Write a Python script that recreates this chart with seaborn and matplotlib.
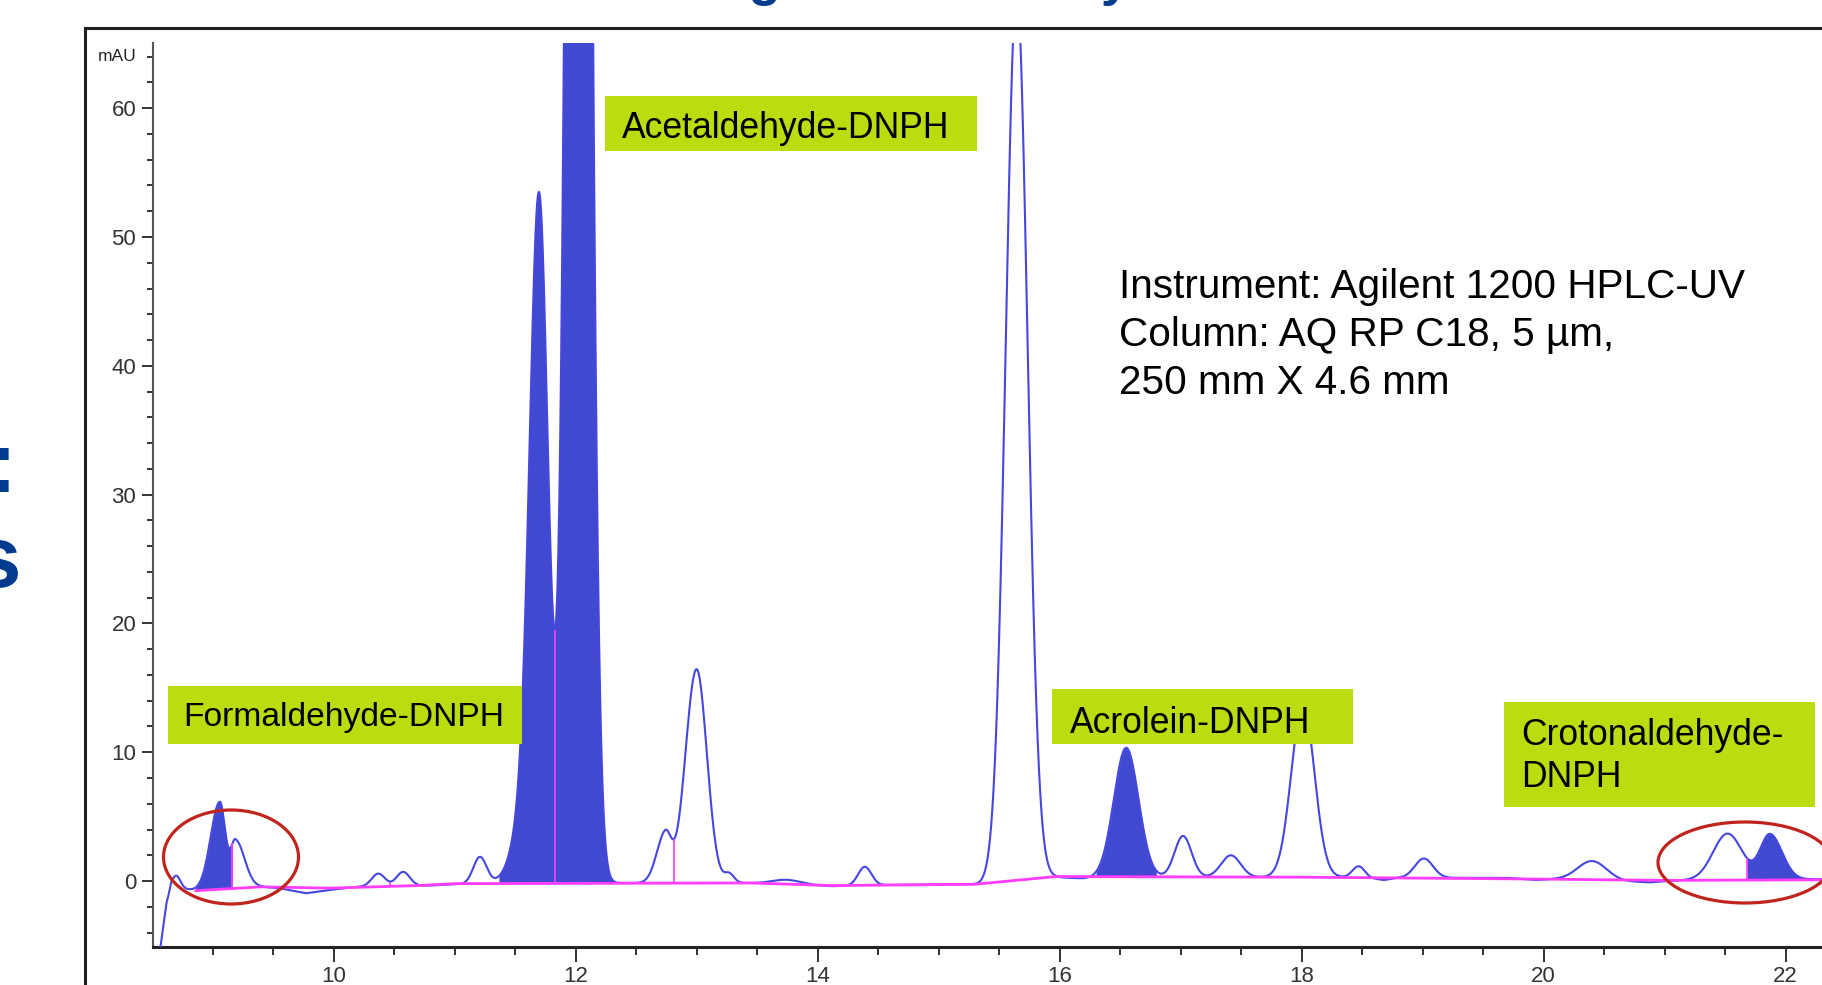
import numpy as np
import matplotlib
matplotlib.use("Agg")
import matplotlib.pyplot as plt
import seaborn as sns
from matplotlib.patches import Rectangle, Ellipse
from matplotlib.ticker import FixedLocator, MultipleLocator

# ---------------- data ----------------
# peak table: retention time (min), height (mAU), left / right widths (min)
peak_rt      = [8.70, 9.06, 9.19, 10.37, 10.575, 11.21, 11.64, 11.70, 12.025, 12.74, 13.00, 13.27, 13.74,
                14.39, 15.645, 16.55, 17.02, 17.415, 18.01, 18.47, 19.01, 20.40, 21.52, 21.87]
peak_height  = [1.0, 6.75, 3.7, 1.0, 1.1, 2.1, 7.5, 47.0, 233.0, 3.8, 16.6, 0.7, 0.35,
                1.45, 69.0, 10.1, 3.2, 1.7, 13.5, 0.85, 1.5, 1.5, 3.6, 3.5]
peak_sigma_l = [0.035, 0.075, 0.04, 0.055, 0.055, 0.055, 0.12, 0.075, 0.0755, 0.07, 0.092, 0.04, 0.12,
                0.055, 0.09, 0.102, 0.07, 0.08, 0.095, 0.05, 0.075, 0.12, 0.12, 0.08]
peak_sigma_r = [0.035, 0.045, 0.075, 0.055, 0.055, 0.055, 0.12, 0.072, 0.0755, 0.05, 0.085, 0.04, 0.12,
                0.055, 0.09, 0.102, 0.07, 0.08, 0.095, 0.05, 0.075, 0.12, 0.12, 0.10]

# detector background under the signal (min, mAU)
bg_time  = [8.56, 8.57, 8.62, 8.66, 8.72, 8.86, 9.40, 9.55, 9.77, 10.0, 10.2, 10.8, 11.0, 12.0, 13.4,
            13.9, 14.12, 14.6, 15.35, 15.55, 15.95, 16.2, 17.0, 18.5, 18.68, 18.8, 19.7, 19.93, 20.1,
            20.88, 21.1, 22.3]
bg_value = [-6.4, -5.1, -1.75, -0.55, -0.6, -0.7, -0.45, -0.55, -0.95, -0.65, -0.45, -0.35, -0.25, -0.15, -0.15,
            -0.3, -0.4, -0.3, -0.25, 0.0, 0.3, 0.2, 0.3, 0.3, 0.08, 0.25, 0.25, 0.08, 0.15,
            -0.1, 0.05, 0.15]

# integration baseline (pink)
base_time  = [8.86, 9.40, 9.97, 10.7, 11.0, 13.45, 14.12, 15.3, 15.97, 18.0, 20.0, 21.0, 22.3]
base_value = [-0.75, -0.45, -0.55, -0.35, -0.2, -0.15, -0.35, -0.25, 0.35, 0.3, 0.15, 0.05, 0.1]

# peak split (drop) lines and integrated (filled) peaks
drop_times   = [9.165, 10.47, 11.83, 12.81, 21.68]
fill_start   = [8.86, 11.37, 16.30, 21.68]
fill_end     = [9.165, 12.33, 16.80, 22.15]

x_ticks = [10, 12, 14, 16, 18, 20, 22]
y_ticks = [0, 10, 20, 30, 40, 50, 60]

labels = ["Formaldehyde-DNPH", "Acetaldehyde-DNPH", "Acrolein-DNPH", "Crotonaldehyde-\nDNPH"]
info_lines = ["Instrument: Agilent 1200 HPLC-UV", "Column: AQ RP C18, 5 \u00b5m,", "250 mm X 4.6 mm"]
title_text = "Chromatogram of Aldehydes"
side_text = ["Results:", "Aldehydes"]

# ---------------- styling ----------------
W, H = 1822, 985
LINE = "#4646e0"
FILL = "#4149d1"
PINK = "#ff3cff"
GREEN = "#b9dd0e"
RED = "#c0241c"
NAVY = "#003b8e"

sns.set_style("white")
plt.rcParams["font.family"] = ["Liberation Sans", "DejaVu Sans"]
NARROW = ["Liberation Sans Narrow", "Liberation Sans", "DejaVu Sans"]

# ---------------- build signal ----------------
t = np.linspace(bg_time[0], bg_time[-1], 9000)
signal = np.interp(t, bg_time, bg_value)
for rt, h, sl, sr in zip(peak_rt, peak_height, peak_sigma_l, peak_sigma_r):
    s = np.where(t < rt, sl, sr)
    signal = signal + h * np.exp(-0.5 * ((t - rt) / s) ** 2)
pink_on_t = np.interp(t, base_time, base_value)

fig = plt.figure(figsize=(W / 100, H / 100), dpi=100)
fig.patch.set_facecolor("white")
ax = fig.add_axes([152.5 / W, 1 - 947 / H, 1 - 152.5 / W, (947 - 43) / H])
ax.set_facecolor("white")

for a, b in zip(fill_start, fill_end):
    m = (t >= a) & (t <= b)
    ax.fill_between(t[m], pink_on_t[m], signal[m], color=FILL, lw=0, zorder=2)

sns.lineplot(x=t, y=signal, ax=ax, color=LINE, linewidth=1.5, estimator=None, sort=False, zorder=3)
sns.lineplot(x=base_time, y=base_value, ax=ax, color=PINK, linewidth=2.0, estimator=None, sort=False, zorder=4)
ax.vlines(drop_times, np.interp(drop_times, base_time, base_value),
          np.interp(drop_times, t, signal), color=PINK, lw=1.2, zorder=4)

ax.set_xlim(8.504, 22.30)
ax.set_ylim(-5.12, 65.06)
ax.set_xlabel("")
ax.set_ylabel("")
for side in ("top", "right"):
    ax.spines[side].set_visible(False)
ax.spines["left"].set_color("#555555")
ax.spines["left"].set_linewidth(1.5)
ax.spines["bottom"].set_color("#222222")
ax.spines["bottom"].set_linewidth(2.2)

ax.xaxis.set_major_locator(FixedLocator(x_ticks))
ax.xaxis.set_minor_locator(MultipleLocator(0.5))
ax.yaxis.set_major_locator(FixedLocator(y_ticks))
ax.yaxis.set_minor_locator(MultipleLocator(2))
ax.set_xticklabels([str(v) for v in x_ticks])
ax.set_yticklabels([str(v) for v in y_ticks])
ax.tick_params(axis="x", which="major", direction="out", length=10.5, width=1.4, color="#333333",
               pad=3.5, labelsize=16, labelcolor="#333333", bottom=True)
ax.tick_params(axis="x", which="minor", direction="out", length=5.8, width=1.4, color="#333333", bottom=True)
ax.tick_params(axis="y", which="major", direction="out", length=7.7, width=1.4, color="#333333",
               pad=4, labelsize=16, labelcolor="#333333", left=True)
ax.tick_params(axis="y", which="minor", direction="out", length=4.1, width=1.4, color="#333333", left=True)
for lab in ax.get_xticklabels() + ax.get_yticklabels():
    lab.set_family(NARROW)
ax.grid(False)

ax.annotate("mAU", xy=(0, 64), xycoords=("axes fraction", "data"), xytext=(-11.5, 0),
            textcoords="offset points", ha="right", va="center", fontsize=12.5,
            color="#222222", family=NARROW)

# ---------------- slide decorations ----------------
fig.add_artist(Rectangle((84.5 / W, -0.5), 2.0, 1 - 28 / H + 0.5, transform=fig.transFigure,
                         fill=False, edgecolor="#1e1e1e", lw=2.2, zorder=1))

def box(x0, y0, x1, y1):
    fig.add_artist(Rectangle((x0 / W, 1 - y1 / H), (x1 - x0) / W, (y1 - y0) / H,
                             transform=fig.transFigure, facecolor=GREEN, edgecolor="none", zorder=5))

def ftext(x, yb, s, **kw):
    fig.text(x / W, 1 - yb / H, s, va="baseline", ha=kw.pop("ha", "left"), zorder=6, **kw)

box(168, 686, 522, 744)
ftext(183, 726, labels[0], fontsize=24.2, color="black")
box(605, 96, 977, 151)
ftext(622, 138, labels[1], fontsize=25.6, color="black")
box(1052, 689, 1353, 744)
ftext(1070, 733, labels[2], fontsize=25.6, color="black")
box(1504, 702, 1815, 807)
l1, l2 = labels[3].split("\n")
ftext(1521, 745, l1, fontsize=25.6, color="black")
ftext(1521, 787, l2, fontsize=25.6, color="black")

for i, line in enumerate(info_lines):
    ftext(1119, 298 + 48 * i, line, fontsize=29.2, color="black")

for (cx, cy, ew, eh) in [(231, 857, 135, 94), (1745, 862.5, 174, 81)]:
    fig.add_artist(Ellipse((cx / W, 1 - cy / H), ew / W, eh / H, transform=fig.transFigure,
                           fill=False, edgecolor=RED, lw=2.3, zorder=7))

ftext(500, -5, title_text, fontsize=38, fontweight="bold", color=NAVY)
ftext(17, 492, side_text[0], fontsize=62.6, fontweight="bold", color=NAVY, ha="right")
ftext(22, 587, side_text[1], fontsize=62.6, fontweight="bold", color=NAVY, ha="right")

fig.savefig("out.png", dpi=100, facecolor="white")
